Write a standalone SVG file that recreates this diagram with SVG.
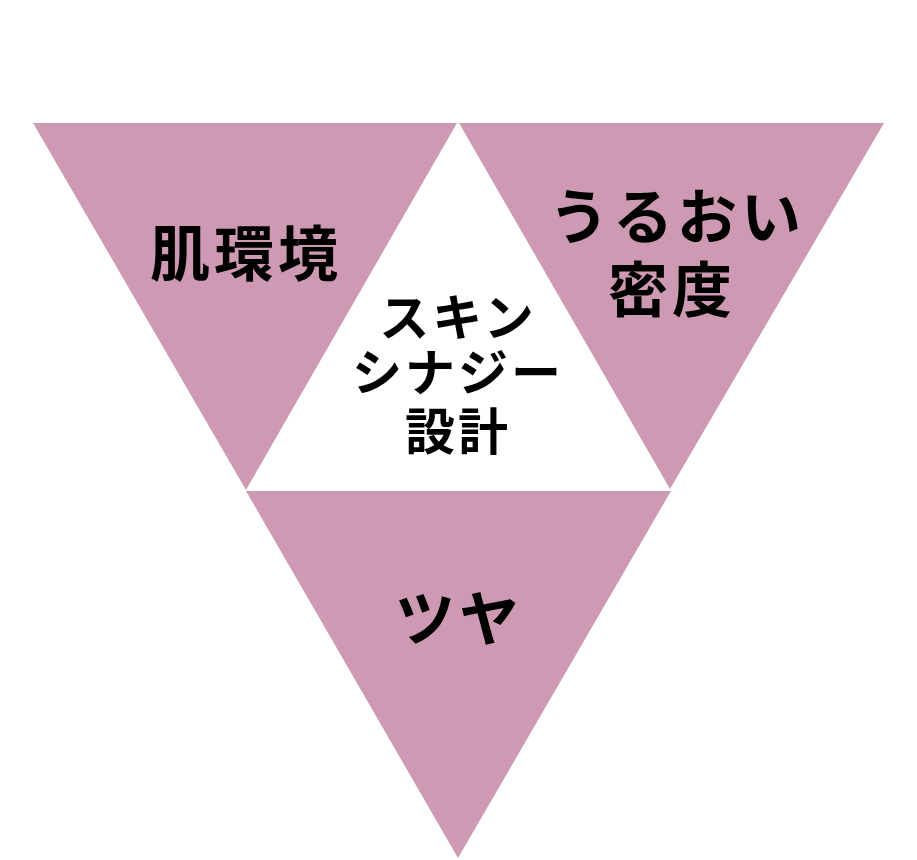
<svg xmlns="http://www.w3.org/2000/svg" width="917" height="860" viewBox="0 0 917 860">
<style>
.tri{fill:#CE9AB3}
.t{font-family:"Noto Sans CJK JP","Noto Sans CJK SC",sans-serif;font-weight:700;fill:#000;text-anchor:middle}
.big{font-size:60px}
.mid{font-size:50px}
</style>
<rect width="917" height="860" fill="#fff"/>
<g id="node-left">
<polygon class="tri" points="33,123 457,123 246,490"/>
<text class="t big" x="246" y="276" letter-spacing="4">肌環境</text>
</g>
<g id="node-right">
<polygon class="tri" points="459,123 884,123 670,489"/>
<text class="t big" x="677" y="239" letter-spacing="4">うるおい</text>
<text class="t big" x="672" y="312" letter-spacing="4">密度</text>
</g>
<g id="node-bottom">
<polygon class="tri" points="246,491 671,491 458,858"/>
<text class="t big" x="459" y="641" letter-spacing="4">ツヤ</text>
</g>
<g id="node-center">
<text class="t mid" x="458" y="336" letter-spacing="3">スキン</text>
<text class="t mid" x="458" y="391" letter-spacing="3">シナジー</text>
<text class="t mid" x="458" y="450" letter-spacing="3">設計</text>
</g>
<g id="connectors"></g>
</svg>
